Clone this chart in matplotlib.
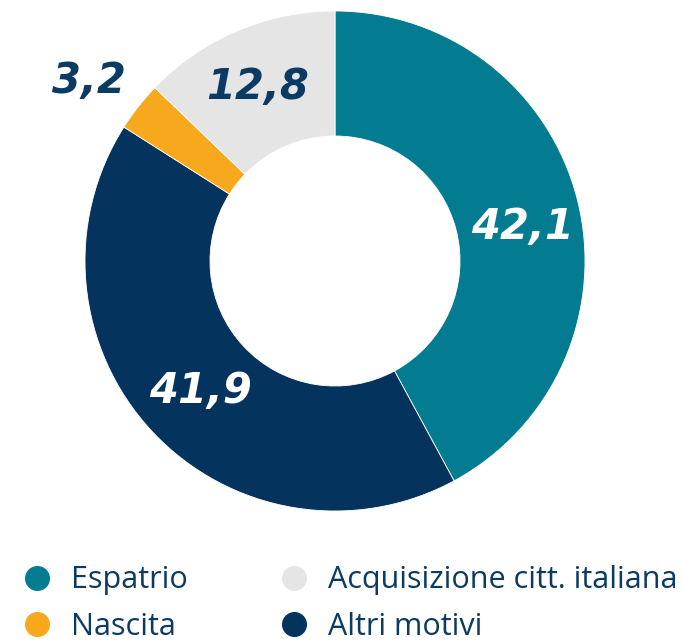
import numpy as np
import matplotlib
matplotlib.use('Agg')
import matplotlib.pyplot as plt
from matplotlib.lines import Line2D

# dati
categorie = ['Espatrio', 'Altri motivi', 'Nascita', 'Acquisizione citt. italiana']
valori = [42.1, 41.9, 3.2, 12.8]
etichette = ['42,1', '41,9', '3,2', '12,8']
colori = ['#037C91', '#04335E', '#F8A81D', '#E5E5E5']
colori_testo = ['white', 'white', '#0B3A62', '#0B3A62']
dist_etichette = [0.76, 0.75, 1.22, 0.76]
sposta_angolo = [-4, 1, 2, 1]   # gradi

ordine_legenda = ['Espatrio', 'Nascita', 'Acquisizione citt. italiana', 'Altri motivi']

blu = '#0B3A62'

fig = plt.figure(figsize=(6.85, 6.43), dpi=100)
ax = fig.add_axes([85 / 685, 1 - 511 / 643, 500 / 685, 500 / 643])

wedges, _ = ax.pie(valori, colors=colori, startangle=90, counterclock=False,
                   radius=1, wedgeprops=dict(width=0.5, edgecolor='white', linewidth=0.6))
ax.set_xlim(-1, 1)
ax.set_ylim(-1, 1)

for w, lab, col, d, da in zip(wedges, etichette, colori_testo, dist_etichette, sposta_angolo):
    ang = np.deg2rad((w.theta1 + w.theta2) / 2 + da)
    ax.text(d * np.cos(ang), d * np.sin(ang), lab, ha='center', va='center',
            fontsize=30, fontweight='bold', fontstyle='italic', family='DejaVu Sans',
            color=col)

handles = []
for nome in ordine_legenda:
    c = colori[categorie.index(nome)]
    handles.append(Line2D([], [], marker='o', linestyle='none', markersize=17,
                          markerfacecolor=c, markeredgecolor=c, label=nome))

leg = fig.legend(handles=handles, ncol=2, loc='upper left',
                 bbox_to_anchor=(0.014, 1 - 553 / 643), frameon=False,
                 prop=dict(family='Open Sans', size=22),
                 labelspacing=0.55, columnspacing=3.0, handletextpad=0.6,
                 handlelength=1.0, borderaxespad=0)
for t in leg.get_texts():
    t.set_color(blu)

fig.savefig('out.png', dpi=100)
